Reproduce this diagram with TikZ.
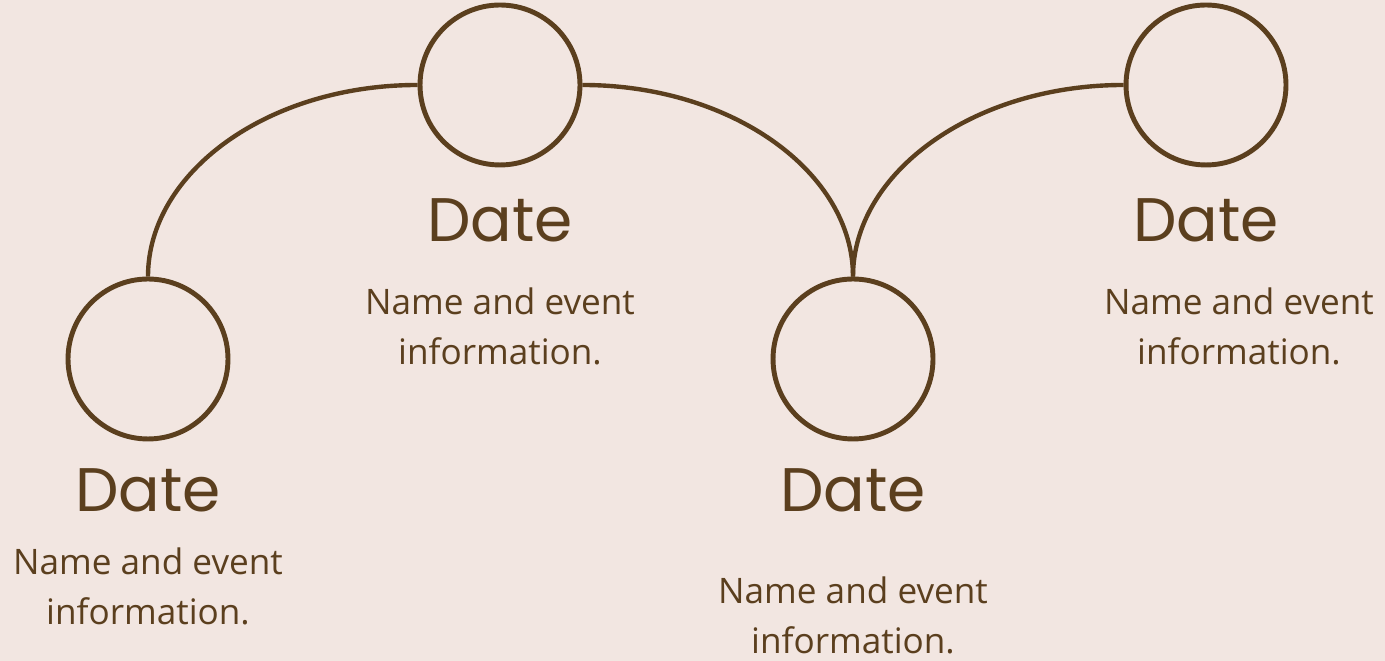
\documentclass[tikz,border=0pt]{standalone}
\usepackage{fontspec}
\setmainfont{Open Sans}
\newfontfamily\datefont{Poppins}
\usetikzlibrary{positioning}
\definecolor{paper}{HTML}{F2E6E1}
\definecolor{bark}{HTML}{5B3F1E}
\tikzset{dot/.style={circle, draw=bark, line width=2.8pt, minimum size=3.2cm, inner sep=0pt},
         datelabel/.style={anchor=base, text=bark, inner sep=0pt, font=\datefont\fontsize{35}{40}\selectfont},
         infolabel/.style={anchor=base, align=center, text=bark, inner sep=0pt, font=\fontsize{20}{28.5}\selectfont},
         link/.style={draw=bark, line width=2.5pt}
        }

\begin{document}
\begin{tikzpicture}[x=0.02cm, y=0.02cm]
        \fill [paper] (0,0) rectangle (1385,661);
        \useasboundingbox (0,0) rectangle (1385,661);
        % circles
        \node [dot] (c1) at (148,302) {};
        \node [dot] (c2) at (500,576) {};
        \node [dot] (c3) at (853,302) {};
        \node [dot] (c4) at (1206,576) {};
        % arcs
        \draw [link] (c1.north) .. controls +(0,104) and +(-150,0) .. (c2.west);
        \draw [link] (c2.east) .. controls +(150,0) and +(0,104) .. (c3.north);
        \draw [link] (c3.north) .. controls +(0,104) and +(-150,0) .. (c4.west);
        % labels
        \node [datelabel] (d1) at (148,149) {Date};
        \node [datelabel] (d2) at (500,419) {Date};
        \node [datelabel] (d3) at (853,149) {Date};
        \node [datelabel] (d4) at (1206,419) {Date};
        \node [infolabel] (i1) at (148,36) {Name and event\\information.};
        \node [infolabel] (i2) at (500,296) {Name and event\\information.};
        \node [infolabel] (i3) at (853,7) {Name and event\\information.};
        \node [infolabel] (i4) at (1239,296) {Name and event\\information.};
      \end{tikzpicture}
\end{document}
